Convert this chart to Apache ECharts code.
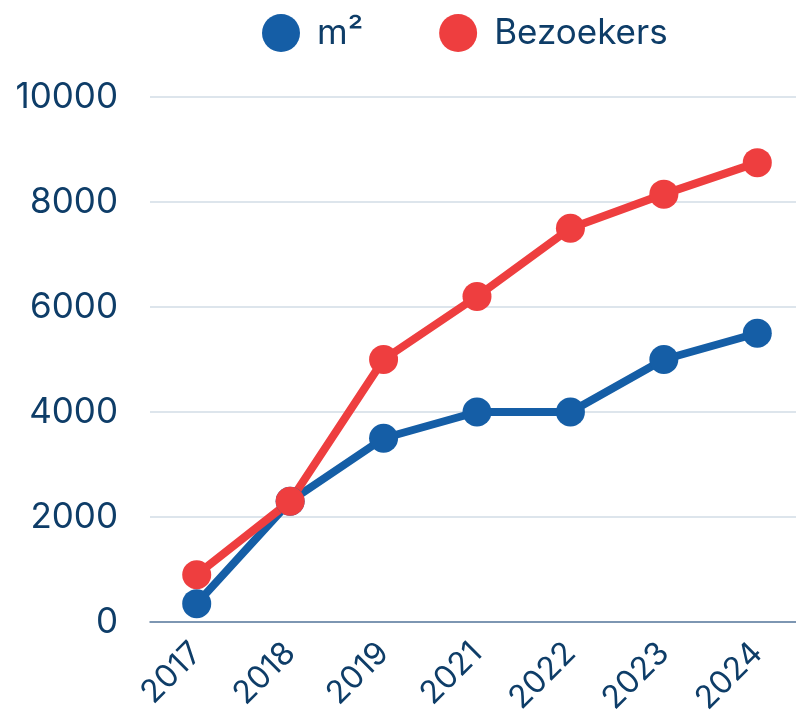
<!DOCTYPE html>
<html><head><meta charset="utf-8">
<script src="https://cdn.jsdelivr.net/npm/echarts@6/dist/echarts.min.js"></script>
<style>html,body{margin:0;padding:0;background:#fff}#c{width:796px;height:727px}</style>
</head><body><div id="c"></div>
<script>
const categories = ['2017','2018','2019','2021','2022','2023','2024'];
const m2 = [350, 2300, 3500, 4000, 4000, 5000, 5500];
const bezoekers = [900, 2300, 5000, 6200, 7500, 8150, 8750];
const textColor = '#0e3d68';
const font = 'Inter';
const chart = echarts.init(document.getElementById('c'));
chart.setOption({
  animation: false,
  legend: {
    left: 257, top: 9,
    icon: 'circle', itemWidth: 38, itemHeight: 38, itemGap: 76,
    textStyle: { color: textColor, fontSize: 35, fontFamily: font, padding: [0,0,0,12] },
    data: ['m²', 'Bezoekers']
  },
  grid: { left: 150, width: 654, top: 97, bottom: 105, outerBoundsMode: 'none' },
  xAxis: {
    type: 'category', data: categories, boundaryGap: true,
    axisLine: { lineStyle: { color: '#5d7c9e', width: 1.5 } },
    axisTick: { show: false },
    axisLabel: { rotate: 45, color: textColor, fontSize: 32, fontFamily: font, margin: 26 }
  },
  yAxis: {
    type: 'value', min: 0, max: 10000, interval: 2000,
    axisLine: { show: false }, axisTick: { show: false },
    splitLine: { lineStyle: { color: '#d2dce6', width: 1.5 } },
    axisLabel: { color: textColor, fontSize: 35, fontFamily: font, margin: 32,
      formatter: v => String(v) }
  },
  series: [
    { name: 'm²', type: 'line', data: m2, symbol: 'circle', symbolSize: 29,
      lineStyle: { width: 8, color: '#155ea6' }, itemStyle: { color: '#155ea6' } },
    { name: 'Bezoekers', type: 'line', data: bezoekers, symbol: 'circle', symbolSize: 29,
      lineStyle: { width: 8, color: '#ee3e3f' }, itemStyle: { color: '#ee3e3f' } }
  ]
});
</script></body></html>
